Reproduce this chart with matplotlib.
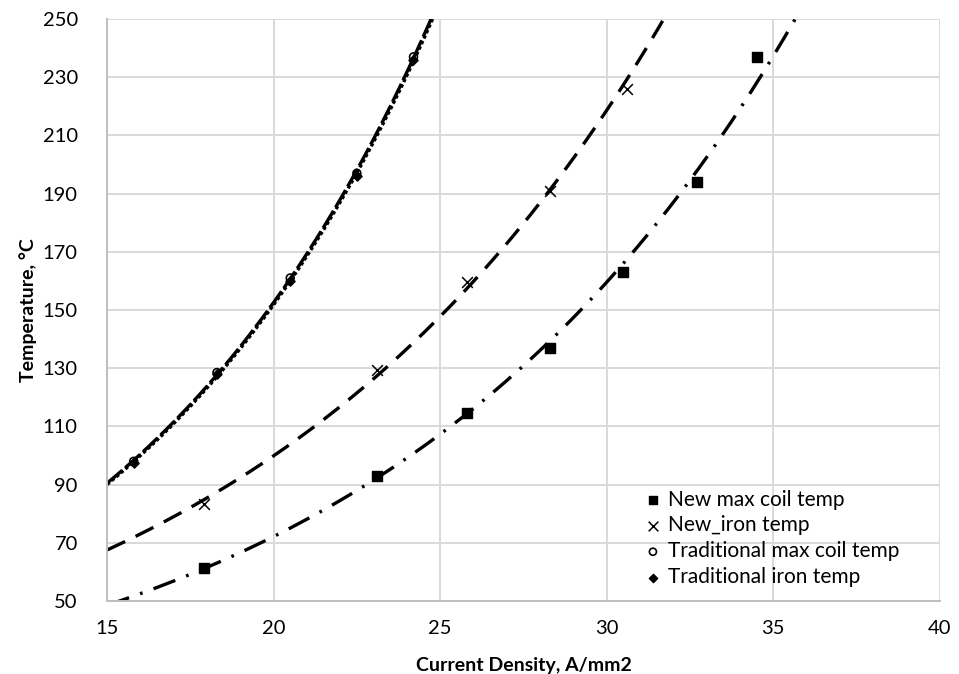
import numpy as np
import matplotlib
matplotlib.use("Agg")
import matplotlib.pyplot as plt

plt.rcParams['font.family'] = ['Lato', 'DejaVu Sans']

# Data
new_coil_x = [17.9, 23.1, 25.8, 28.3, 30.5, 32.7, 34.5]
new_coil_y = [61.5, 93.0, 114.5, 137.0, 163.0, 194.0, 237.0]

new_iron_x = [17.9, 23.1, 25.8, 28.3, 30.6]
new_iron_y = [83.5, 129.5, 159.5, 191.0, 226.0]

trad_coil_x = [15.8, 18.3, 20.5, 22.5, 24.2]
trad_coil_y = [98.0, 128.5, 161.0, 197.0, 237.0]

trad_iron_x = [15.8, 18.3, 20.5, 22.5, 24.2]
trad_iron_y = [97.5, 128.0, 160.0, 196.0, 236.0]

labels = ["New max coil temp", "New_iron temp", "Traditional max coil temp", "Traditional iron temp"]
xticks = [15, 20, 25, 30, 35, 40]
yticks = [50, 70, 90, 110, 130, 150, 170, 190, 210, 230, 250]

fig = plt.figure(figsize=(9.59, 6.74), dpi=100)
ax = fig.add_axes([0.1116, 0.1083, 0.980 - 0.1116, 0.9718 - 0.1083])
ax.set_xlim(15, 40)
ax.set_ylim(50, 250)
ax.set_xticks(xticks)
ax.set_yticks(yticks)
ax.grid(True, color="#d9d9d9", linewidth=1.4)
ax.set_axisbelow(True)
for s in ["top", "right"]:
    ax.spines[s].set_visible(False)
for s in ["left", "bottom"]:
    ax.spines[s].set_color("#bfbfbf")
    ax.spines[s].set_linewidth(1.4)
ax.tick_params(length=0, labelsize=14.5)
ax.tick_params(axis="x", pad=14)
ax.tick_params(axis="y", pad=21)


def exp_trend(x, y):
    b, a = np.polyfit(np.asarray(x), np.log(np.asarray(y)), 1)
    xs = np.linspace(15, 40, 400)
    return xs, np.exp(a + b * xs)

lw = 2.4
xs, ys = exp_trend(trad_coil_x, trad_coil_y)
ax.plot(xs, ys, color="black", lw=lw, linestyle=(0, (6, 1.2)))
xs, ys = exp_trend(trad_iron_x, trad_iron_y)
ax.plot(xs, ys, color="black", lw=lw, linestyle=(0, (1, 0.8)))
xs, ys = exp_trend(new_iron_x, new_iron_y)
ax.plot(xs, ys, color="black", lw=lw, linestyle=(0, (6, 3.5)))
xs, ys = exp_trend(new_coil_x, new_coil_y)
ax.plot(xs, ys, color="black", lw=lw, linestyle=(0, (7, 3.5, 0.8, 3.5)))

h1 = ax.scatter(new_coil_x, new_coil_y, marker="s", s=45, color="black", zorder=5, label=labels[0])
h2 = ax.scatter(new_iron_x, new_iron_y, marker="x", s=60, color="black", linewidths=1.1, zorder=5, label=labels[1])
h3 = ax.scatter(trad_coil_x, trad_coil_y, marker="o", s=32, facecolors="none", edgecolors="black", linewidths=1.2, zorder=5, label=labels[2])
h4 = ax.scatter(trad_iron_x, trad_iron_y, marker="D", s=22, color="black", zorder=5, label=labels[3])

ax.set_xlabel("Current Density, A/mm2", fontsize=14, fontweight="bold", labelpad=14)
ax.set_ylabel("Temperature, \u00b0C", fontsize=14, fontweight="bold", labelpad=4)

leg = ax.legend(handles=[h1, h2, h3, h4], loc="lower left", bbox_to_anchor=(0.643, 0.024),
                frameon=False, fontsize=15, handletextpad=0.2, labelspacing=0.28,
                borderaxespad=0.0, borderpad=0.0, handlelength=1.0, scatterpoints=1,
                markerscale=0.9)

fig.savefig("out.png", dpi=100, facecolor="white")
